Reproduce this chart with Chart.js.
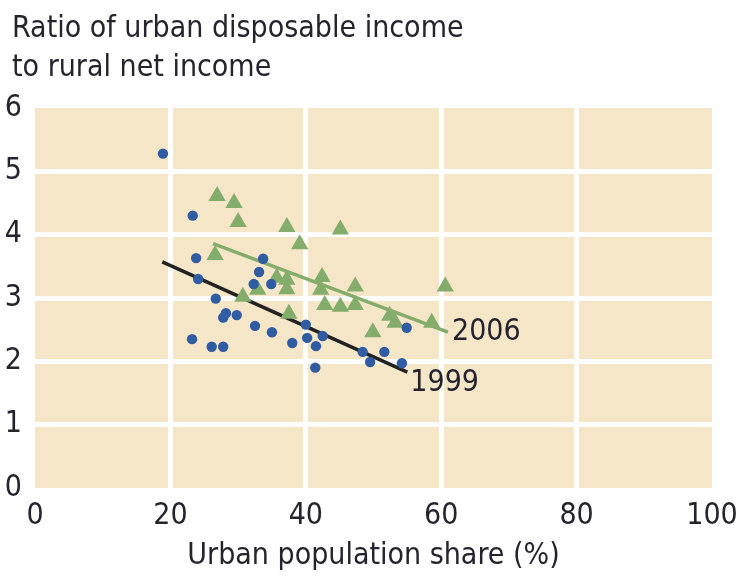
<!DOCTYPE html>
<html>
<head>
<meta charset="utf-8">
<script src="https://cdn.jsdelivr.net/npm/chart.js@4.4.1/dist/chart.umd.min.js"></script>
<style>
  html, body { margin: 0; padding: 0; background: #ffffff; }
  #wrap { width: 737px; height: 585px; position: relative; }
</style>
</head>
<body>
<div id="wrap"><canvas id="c" width="737" height="585"></canvas></div>
<script>
// ---- Data ----
const urbanShare1999 = [18.9, 23.3, 23.8, 24.1, 23.2, 26.7, 26.1, 27.8, 27.8, 28.2, 29.8, 32.3, 33.1, 33.7, 34.9, 32.5, 35.0, 38.0, 40.0, 40.2, 41.5, 42.5, 41.4, 48.4, 49.5, 51.6, 54.2, 54.9];
const ratio1999      = [5.28, 4.30, 3.63, 3.30, 2.35, 2.99, 2.23, 2.23, 2.69, 2.76, 2.73, 3.22, 3.41, 3.62, 3.22, 2.56, 2.46, 2.29, 2.58, 2.37, 2.24, 2.40, 1.90, 2.15, 1.99, 2.15, 1.97, 2.53];

const urbanShare2006 = [26.9, 29.4, 30.0, 37.2, 39.1, 45.1, 26.6, 30.7, 32.9, 35.7, 37.2, 37.2, 37.5, 42.4, 42.2, 47.3, 42.8, 45.1, 47.3, 52.4, 53.2, 49.9, 58.6, 60.6];
const ratio2006      = [4.61, 4.50, 4.20, 4.12, 3.85, 4.08, 3.68, 3.02, 3.13, 3.32, 3.29, 3.14, 2.75, 3.33, 3.13, 3.18, 2.89, 2.86, 2.89, 2.72, 2.61, 2.46, 2.61, 3.18];

const trend1999X = [18.8, 55.0];
const trend1999Y = [3.57, 1.83];
const trend2006X = [26.3, 61.0];
const trend2006Y = [3.86, 2.46];

const seriesLabels = ['1999', '2006'];
const xTickValues = [0, 20, 40, 60, 80, 100];
const yTickValues = [0, 1, 2, 3, 4, 5, 6];
const titleLines = ['Ratio of urban disposable income', 'to rural net income'];
const xAxisTitle = 'Urban population share (%)';

// ---- Styling ----
const FONT = '"Liberation Sans Narrow", "DejaVu Sans Condensed", "Arial Narrow", sans-serif';
const TEXT_COLOR = '#25232e';
const BLUE = '#2f5ca3';
const GREEN = '#84ad6c';
const PANEL = '#f6e6c8';

const toPoints = (xs, ys) => xs.map((x, i) => ({ x: x, y: ys[i] }));

const panelBackground = {
  id: 'panelBackground',
  beforeDraw(chart) {
    const { ctx, chartArea: a } = chart;
    ctx.save();
    ctx.fillStyle = PANEL;
    ctx.fillRect(a.left, a.top, a.right - a.left, a.bottom - a.top);
    ctx.restore();
  }
};

const textLayer = {
  id: 'textLayer',
  afterDraw(chart) {
    const { ctx, chartArea: a, scales } = chart;
    ctx.save();
    ctx.fillStyle = TEXT_COLOR;
    ctx.font = '30px ' + FONT;
    ctx.textBaseline = 'alphabetic';
    ctx.textAlign = 'left';
    ctx.fillText(titleLines[0], 12, 37);
    ctx.fillText(titleLines[1], 12, 76);
    ctx.textAlign = 'center';
    ctx.fillText(xAxisTitle, (a.left + a.right) / 2, 564);
    // series labels at the end of each trend line
    ctx.textAlign = 'left';
    ctx.textBaseline = 'middle';
    const x06 = scales.x.getPixelForValue(trend2006X[1]);
    const y06 = scales.y.getPixelForValue(trend2006Y[1]);
    ctx.fillText(seriesLabels[1], x06 + 4, y06);
    const x99 = scales.x.getPixelForValue(trend1999X[1]);
    const y99 = scales.y.getPixelForValue(trend1999Y[1]);
    ctx.fillText(seriesLabels[0], x99 + 3, y99 + 11);
    ctx.restore();
  }
};

new Chart(document.getElementById('c'), {
  type: 'scatter',
  data: {
    datasets: [
      {
        label: '1999',
        data: toPoints(urbanShare1999, ratio1999),
        pointStyle: 'circle',
        pointRadius: 5.2,
        pointHoverRadius: 5.2,
        backgroundColor: BLUE,
        borderWidth: 0,
        order: 1
      },
      {
        label: '2006',
        data: toPoints(urbanShare2006, ratio2006),
        pointStyle: 'triangle',
        pointRadius: 10,
        pointHoverRadius: 10,
        backgroundColor: GREEN,
        borderWidth: 0,
        order: 2
      },
      {
        type: 'line',
        label: 'trend 1999',
        data: toPoints(trend1999X, trend1999Y),
        borderColor: '#222222',
        borderWidth: 3.5,
        pointRadius: 0,
        fill: false,
        order: 3
      },
      {
        type: 'line',
        label: 'trend 2006',
        data: toPoints(trend2006X, trend2006Y),
        borderColor: GREEN,
        borderWidth: 3.5,
        pointRadius: 0,
        fill: false,
        order: 3
      }
    ]
  },
  options: {
    responsive: false,
    animation: false,
    events: [],
    layout: { padding: { top: 108, right: 25, left: 0, bottom: 0 } },
    plugins: { legend: { display: false }, tooltip: { enabled: false }, title: { display: false } },
    scales: {
      x: {
        type: 'linear',
        min: 0, max: 100,
        afterBuildTicks(scale) { scale.ticks = xTickValues.map(v => ({ value: v })); },
        afterFit(scale) { scale.height = 97; scale.paddingLeft = 0; scale.paddingRight = 0; },
        grid: {
          color: (c) => (c.tick && (c.tick.value === 0 || c.tick.value === 100)) ? 'rgba(0,0,0,0)' : '#ffffff',
          lineWidth: 5,
          drawTicks: false
        },
        border: { display: false },
        ticks: { color: TEXT_COLOR, font: { family: FONT, size: 30 }, padding: 10, maxRotation: 0 }
      },
      y: {
        type: 'linear',
        min: 0, max: 6,
        afterBuildTicks(scale) { scale.ticks = yTickValues.map(v => ({ value: v })); },
        afterFit(scale) { scale.width = 35; scale.paddingTop = 0; scale.paddingBottom = 0; },
        grid: {
          color: (c) => (c.tick && (c.tick.value === 0 || c.tick.value === 6)) ? 'rgba(0,0,0,0)' : '#ffffff',
          lineWidth: 5,
          drawTicks: false
        },
        border: { display: false },
        ticks: { color: TEXT_COLOR, font: { family: FONT, size: 30 }, padding: 13 }
      }
    }
  },
  plugins: [panelBackground, textLayer]
});
</script>
</body>
</html>
